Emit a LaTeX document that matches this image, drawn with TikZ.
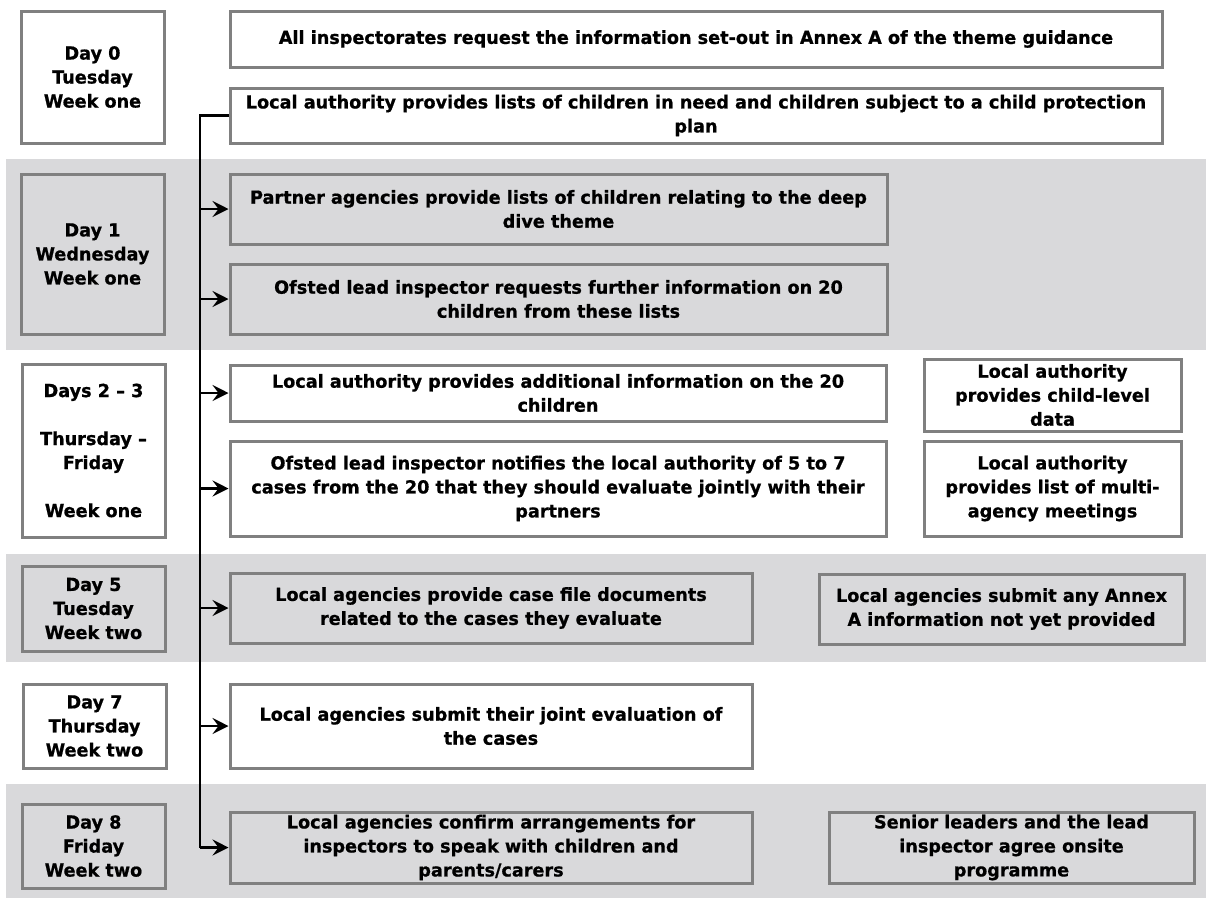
\documentclass[tikz,border=0pt]{standalone}
\usepackage{fontspec}
\usetikzlibrary{arrows.meta}
\newfontfamily\dfont{DejaVu Sans}[FakeStretch=0.98, BoldFeatures={FakeBold=0.8}]
\definecolor{bandgray}{HTML}{D9D9DB}
\definecolor{edgegray}{HTML}{808080}
\tikzset{
  box/.style={draw=edgegray, line width=3pt, align=center, inner sep=0pt,
    font=\dfont\bfseries\fontsize{18}{24}\selectfont},
  spine/.style={draw=black, line width=2.6pt},
  arr/.style={draw=black, line width=2.6pt, -{Stealth[length=16pt,width=16pt,inset=6pt]}},
}
% place box by corners
\newcommand{\bx}[6]{\node[box, minimum width={#4-#2}, minimum height={#5-#3}] (#1) at ({(#2+#4)/2},{(#3+#5)/2}) {#6};}
\begin{document}
\begin{tikzpicture}[x=1pt,y=-1pt]
\fill[white] (0,0) rectangle (1206,900);
\useasboundingbox (0,0) rectangle (1206,900);
% bands
\fill[bandgray] (6,159) rectangle (1206,350);
\fill[bandgray] (6,554) rectangle (1206,662);
\fill[bandgray] (6,784) rectangle (1206,898);
% day boxes
\bx{d0}{21}{11}{164}{143}{Day 0\\Tuesday\\Week one}
\bx{d1}{21}{174}{164}{334}{Day 1\\Wednesday\\Week one}
\bx{d23}{22}{364}{165}{537}{Days 2 – 3\\[24pt]Thursday –\\Friday\\[24pt]Week one}
\bx{d5}{22}{566}{165}{651}{Day 5\\Tuesday\\Week two}
\bx{d7}{23}{684}{166}{768}{Day 7\\Thursday\\Week two}
\bx{d8}{22}{804}{165}{888}{Day 8\\Friday\\Week two}
% main boxes
\bx{A}{230}{11}{1162}{67}{All inspectorates request the information set-out in Annex A of the theme guidance}
\bx{B}{230}{88}{1162}{143}{Local authority provides lists of children in need and children subject to a child protection\\plan}
\bx{C}{230}{174}{887}{244}{Partner agencies provide lists of children relating to the deep\\dive theme}
\bx{D}{230}{264}{887}{334}{Ofsted lead inspector requests further information on 20\\children from these lists}
\bx{E}{230}{365}{886}{421}{Local authority provides additional information on the 20\\children}
\bx{F}{230}{441}{886}{536}{Ofsted lead inspector notifies the local authority of 5 to 7\\cases from the 20 that they should evaluate jointly with their\\partners}
\bx{G}{230}{573}{752}{643}{Local agencies provide case file documents\\related to the cases they evaluate}
\bx{H}{230}{684}{752}{768}{Local agencies submit their joint evaluation of\\the cases}
\bx{I}{230}{812}{752}{883}{Local agencies confirm arrangements for\\inspectors to speak with children and\\parents/carers}
\bx{J}{924}{359}{1181}{431}{Local authority\\provides child-level\\data}
\bx{K}{924}{441}{1181}{536}{Local authority\\provides list of multi-\\agency meetings}
\bx{L}{819}{574}{1184}{644}{Local agencies submit any Annex\\A information not yet provided}
\bx{M}{829}{812}{1194}{883}{Senior leaders and the lead\\inspector agree onsite\\programme}
% connectors
\coordinate (top) at (200,115.5);
\coordinate (bot) at (top |- I.west);
\draw[spine] (B.west) -- (top) -- (bot);
\foreach \n in {C,D,E,F,G,H,I}{
  \draw[arr] (top |- \n.west) -- (\n.west);
}
\end{tikzpicture}
\end{document}
